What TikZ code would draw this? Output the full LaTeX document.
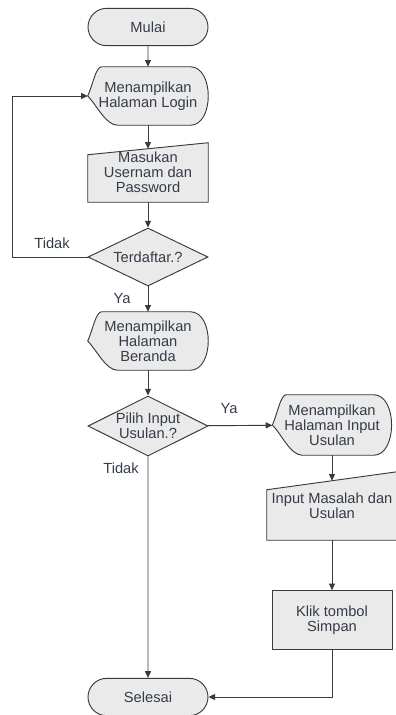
\documentclass[tikz,border=0pt]{standalone}
\usepackage{fontspec}
\setmainfont{Liberation Sans}
\usetikzlibrary{shapes.geometric,shapes.misc,arrows.meta,calc,backgrounds}
\definecolor{linegray}{HTML}{3A3A3A}
\definecolor{boxfill}{HTML}{EAEAEA}
\definecolor{txtcol}{HTML}{343C48}

% display symbol drawn round a named node
\newcommand{\displaybox}[1]{%
  \draw[shapeline] (#1.west) .. controls +(5,-11) and +(-6,0) .. ($(#1.north west)+(14,0)$)
    -- ($(#1.north east)+(-18,0)$) .. controls +(24,0) and +(24,0) .. ($(#1.south east)+(-18,0)$)
    -- ($(#1.south west)+(30,0)$) .. controls +(-12,0) and +(9,9) .. (#1.west) -- cycle;}
% manual input symbol, #2 = drop of the top left corner
\newcommand{\manualbox}[2]{%
  \draw[shapeline] (#1.south west) -- ($(#1.north west)+(0,#2)$) -- (#1.north east)
    -- (#1.south east) -- cycle;}

\begin{document}
\begin{tikzpicture}[x=0.75pt,y=-0.75pt,
    shapeline/.style={draw=linegray,fill=boxfill,line width=0.7pt},
    txt/.style={align=center,text=txtcol,font=\fontsize{11}{11.25}\selectfont,inner sep=0pt},
    terminal/.style={txt,rounded rectangle,shapeline,minimum width=90pt,minimum height=28pt},
    plainbox/.style={txt,minimum width=90pt,minimum height=43.5pt},
    decision/.style={txt,diamond,aspect=2,shapeline,minimum width=90pt,minimum height=43.5pt},
    process/.style={txt,rectangle,shapeline,minimum width=90pt,minimum height=44pt},
    lbl/.style={text=txtcol,font=\fontsize{11}{11.25}\selectfont,inner sep=1pt},
    arr/.style={draw=linegray,line width=0.7pt,-{Triangle[length=5pt,width=4.5pt]}}]
  \useasboundingbox (0,0) rectangle (396,715);

  % left column
  \node[terminal] (mulai) at (148,27) {Mulai};
  \node[plainbox] (login) at (148,96) {Menampilkan\\Halaman Login};
  \node[plainbox,minimum height=44.25pt] (masuk) at (148,172.5) {Masukan\\Usernam dan\\Password};
  \node[decision] (cek) at (148,257) {Terdaftar.?};
  \node[plainbox] (beranda) at (148,341) {Menampilkan\\Halaman\\Beranda};
  \node[decision,minimum height=45pt] (pilih) at (148,426) {Pilih Input\\Usulan.?};
  \node[terminal] (selesai) at (148,697) {Selesai};

  % right column
  \node[plainbox,minimum width=89pt,minimum height=45pt] (usulan) at (332,425) {Menampilkan\\Halaman Input\\Usulan};
  \node[plainbox,minimum width=97.5pt,minimum height=51pt] (inputmsl) at (332,506) {Input Masalah dan\\Usulan};
  \node[process] (simpan) at (332,620) {Klik tombol\\Simpan};

  \begin{scope}[on background layer]
    \displaybox{login}
    \displaybox{beranda}
    \displaybox{usulan}
    \manualbox{masuk}{12}
    \manualbox{inputmsl}{18}
  \end{scope}

  % connectors
  \draw[arr] (mulai) -- (login);
  \draw[arr] (login) -- ($(masuk.north)+(0,6)$);
  \draw[arr] (masuk) -- (cek);
  \draw[arr] (cek.west) -- ++(-75,0) |- (login.west);
  \draw[arr] (cek) -- (beranda);
  \draw[arr] (beranda) -- (pilih);
  \draw[arr] (pilih) -- (usulan);
  \draw[arr] (pilih) -- (selesai);
  \draw[arr] (usulan) -- ($(inputmsl.north)+(0,9)$);
  \draw[arr] (inputmsl) -- (simpan);
  \draw[arr] (simpan.south) |- (selesai.east);

  % branch labels
  \node[lbl] (tidakcek) at (52,243) {Tidak};
  \node[lbl] (yacek) at (122,299) {Ya};
  \node[lbl] (yapilih) at (229,409) {Ya};
  \node[lbl] (tidakpilih) at (121,468) {Tidak};
\end{tikzpicture}
\end{document}
